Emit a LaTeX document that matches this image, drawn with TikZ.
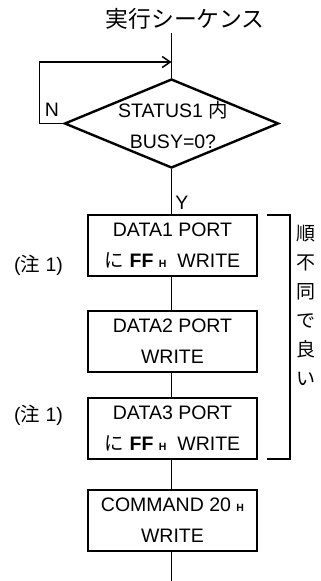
\documentclass[tikz,border=0pt]{standalone}
\usepackage{fontspec}
\setmainfont{Liberation Sans}
\newfontfamily\jpfont{Noto Sans CJK JP}
\usetikzlibrary{shapes.geometric,arrows.meta}
\newcommand{\ja}[1]{{\jpfont #1}}
\newcommand{\hx}{{\fontsize{10.5}{10.5}\selectfont\bfseries H}}
\tikzset{
  procbox/.style={draw,line width=2.2pt,minimum width=169pt,minimum height=61pt,
    inner sep=0pt,align=center,font=\fontsize{19.5}{31}\selectfont},
  decide/.style={draw,diamond,line width=2.4pt,minimum width=214pt,
    minimum height=89pt,inner sep=0pt},
  flow/.style={line width=1.5pt},
  lbl/.style={inner sep=0pt,align=center,font=\fontsize{19.5}{31}\selectfont}
}
\begin{document}
\begin{tikzpicture}[x=1pt,y=-1pt]
  \useasboundingbox (0,0) rectangle (321,581);
  % title and entry
  \node[inner sep=0pt,font=\fontsize{22.8}{22.8}\selectfont\jpfont] (title) at (185,18.5) {実行シーケンス};
  \coordinate (start) at (171.5,33);
  \coordinate (loopin) at (171.5,62);
  % decision
  \node[decide] (busy) at (171.5,123.5) {};
  \node[lbl] (busytxt) at (173,125) {STATUS1 \ja{内}\\BUSY=0?};
  \node[lbl] (no) at (52,110) {N};
  \node[lbl] (yes) at (182,203) {Y};
  % process boxes
  \node[procbox] (d1) at (172.5,245.5) {DATA1 PORT\\\ja{に} \textbf{FF} \hx\ \ WRITE};
  \node[procbox] (d2) at (172.5,341.5) {DATA2 PORT\\WRITE};
  \node[procbox] (d3) at (172.5,428.5) {DATA3 PORT\\\ja{に} \textbf{FF} \hx\ \ WRITE};
  \node[procbox] (cmd) at (172.5,520.5) {COMMAND 20 \hx\\WRITE};
  \coordinate (stop) at (171.5,581);
  % notes
  \node[lbl] (n1) at (38.5,265) {(\ja{注}\ 1)};
  \node[lbl] (n3) at (38.5,415) {(\ja{注}\ 1)};
  \node[lbl,font=\fontsize{19}{29}\selectfont\jpfont] (order) at (306,305) {順\\不\\同\\で\\良\\い};
  % connectors
  \draw[flow] (start) -- (busy.north);
  \draw[flow,-{Straight Barb[length=8pt,width=11pt]}] (busy.west) -- ++(-24,0) |- (loopin);
  \draw[flow] (busy.south) -- (d1.north -| busy.south);
  \draw[flow] (d1.south -| busy.south) -- (d2.north -| busy.south);
  \draw[flow] (d2.south -| busy.south) -- (d3.north -| busy.south);
  \draw[flow] (d3.south -| busy.south) -- (cmd.north -| busy.south);
  \draw[flow] (cmd.south -| busy.south) -- (stop);
  % bracket
  \draw[line width=1.3pt] (267,215) -- (290,215) -- (290,459) -- (267,459);
\end{tikzpicture}
\end{document}
